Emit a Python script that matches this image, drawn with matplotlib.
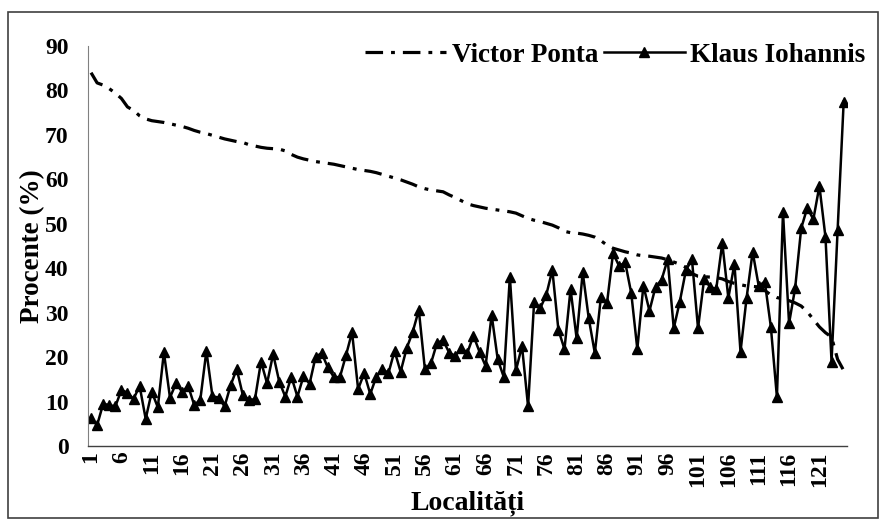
import numpy as np
import matplotlib
matplotlib.use("Agg")
import matplotlib.pyplot as plt
from matplotlib.patches import Rectangle

plt.rcParams['font.family'] = ['Liberation Serif', 'DejaVu Serif']
plt.rcParams['font.weight'] = 'bold'
plt.rcParams['axes.labelweight'] = 'bold'

# Iohannis (%) per localitate
iohannis = [6.2, 4.7, 9.5, 9.2, 8.9, 12.6, 12, 10.6, 13.5, 6.1,
            12.2, 8.7, 21.1, 10.9, 14.1, 12.2, 13.5, 9.2, 10.4, 21.4,
            11.2, 10.9, 8.9, 13.7, 17.3,
            11.5, 10.4, 10.5, 19, 14.1, 20.7, 14.5, 11.1, 15.6, 11.1,
            15.7, 14, 20.1, 20.9, 17.7, 15.5, 15.5, 20.4, 25.6, 12.8,
            16.4, 11.7, 15.6, 17.3, 16.4, 21.4,
            16.7, 22, 25.7, 30.6, 17.3, 18.6, 23.2, 23.8, 21, 20.3,
            22, 21, 24.8, 21.2, 18, 29.5, 19.5, 15.5, 38.1, 17,
            22.5, 8.9, 32.5, 31, 34,
            39.6, 26.1, 21.8, 35.3, 24.2, 39.1, 28.7, 20.9, 33.5, 32.1,
            43.4, 40.5, 41.3, 34.4, 21.8, 36.1, 30.4, 35.8, 37.4, 42,
            26.5, 32.5, 39.5, 42, 26.5, 37.5, 35.8, 35.3, 45.7, 33.3,
            41, 21.2, 33.3, 43.7, 36, 37, 26.8, 11, 52.6, 27.6,
            35.5, 49, 53.6, 51, 58.5, 47, 19, 48.6, 77.5]

# Ponta (%) - sortat descrescator
ponta = [84, 81.7, 81.2, 80.4, 79.4, 78.2, 76.3, 75.5, 74.3, 73.6,
         73.2, 73.0, 72.8, 72.5, 72.2, 71.9, 71.5, 71.0, 70.6, 70.3,
         69.9, 69.5, 69.1, 68.8, 68.5, 68.3, 67.8, 67.5, 67.2, 67.0,
         66.9, 66.8, 66.4, 65.6, 65.0, 64.6, 64.3, 64.0, 63.8, 63.6,
         63.4, 63.1, 62.8, 62.5, 62.2, 62.0, 61.8, 61.5, 61.1, 60.7,
         60.3, 59.9, 59.4, 58.9, 58.3, 57.9, 57.6, 57.4, 57.2, 56.5,
         55.9, 55.2, 54.5, 54.1, 53.8, 53.5, 53.3, 53.1, 52.9, 52.7,
         52.4, 51.8, 51.2, 50.8, 50.5, 50.1, 49.7, 49.1, 48.3, 48.0,
         47.9, 47.7, 47.4, 47.0, 46.2, 45.2, 44.5, 44.1, 43.7, 43.4,
         43.0, 42.8, 42.7, 42.5, 42.3, 41.9, 41.4, 40.9, 40.2, 38.8,
         38.2, 38.1, 38.0, 37.9, 37.6, 37.0, 36.6, 36.3, 36.0, 35.9,
         35.8, 35.0, 34.0, 33.4, 33.1, 32.7, 32.2, 31.5, 30.2, 28.5,
         26.8, 25.5, 24.5, 19.5, 17.0]

x = np.arange(1, len(iohannis) + 1)
xticks = list(range(1, len(iohannis) + 1, 5))

fig = plt.figure(figsize=(8.82, 5.20), dpi=100)
ax = fig.add_axes([0.0998, 0.1423, 0.8602, 0.7692])

ax.plot(x, ponta, color='black', lw=2.3, dashes=[5.5, 2.5, 1.2, 2.5],
        label='Victor Ponta')
ax.plot(x, iohannis, color='black', lw=1.8, marker='^', markersize=7.5,
        label='Klaus Iohannis')

ax.set_xlim(0.5, len(iohannis) + 0.5)
ax.set_ylim(0, 90)
ax.set_yticks(range(0, 91, 10))
ax.set_xticks(xticks)
ax.set_xticklabels([str(v) for v in xticks], rotation=90)
ax.tick_params(axis='both', length=0, labelsize=17)
ax.tick_params(axis='y', pad=14)
ax.tick_params(axis='x', pad=4)

for s in ['top', 'right']:
    ax.spines[s].set_visible(False)
ax.spines['left'].set_color('#808080')
ax.spines['bottom'].set_color('#404040')
ax.spines['left'].set_linewidth(0.8)
ax.spines['bottom'].set_linewidth(1.0)

ax.set_ylabel('Procente (%)', fontsize=19.5, fontweight='bold')
ax.set_xlabel('Localități', fontsize=20, fontweight='bold')
ax.yaxis.set_label_coords(-0.056, 0.5)
ax.xaxis.set_label_coords(0.5, -0.112)

ax.legend(loc='upper right', bbox_to_anchor=(1.009, 0.965),
          bbox_transform=fig.transFigure, ncol=2, frameon=False,
          prop={'size': 19.5, 'weight': 'bold'},
          handlelength=3.0, columnspacing=0.2, handletextpad=0.2)

fig.patches.append(Rectangle((0.009, 0.004), 0.987, 0.973, transform=fig.transFigure,
                             fill=False, edgecolor='#404040', lw=1.2))

fig.savefig('out.png', dpi=100)
